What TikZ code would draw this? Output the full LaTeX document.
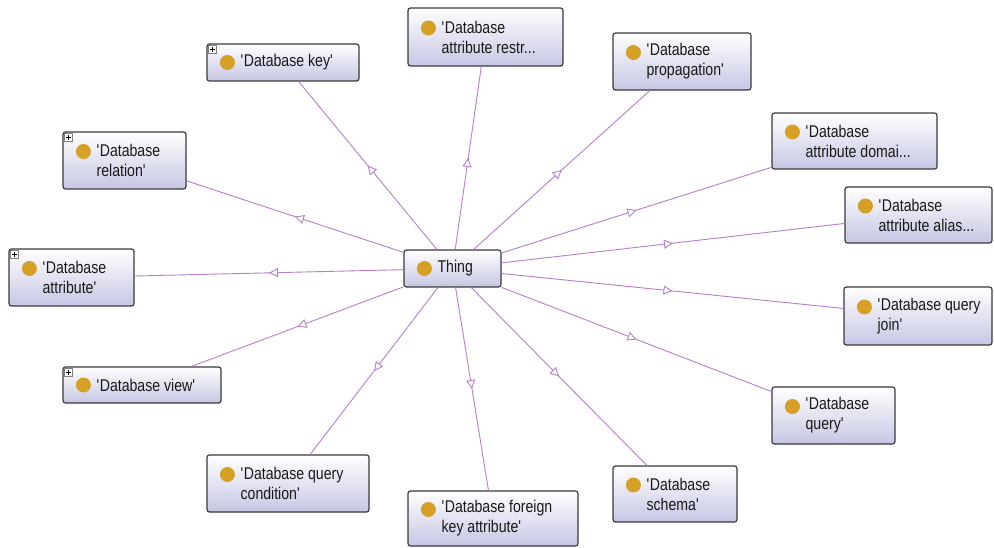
\documentclass[tikz,border=0pt]{standalone}
\usepackage{fontspec}
\setmainfont[FakeStretch=0.83]{Liberation Sans}
\usetikzlibrary{arrows.meta,decorations.markings}

\definecolor{boxline}{RGB}{58,58,62}
\definecolor{boxlow}{RGB}{198,198,228}
\definecolor{dotc}{RGB}{214,160,38}
\definecolor{edgec}{RGB}{182,126,204}
\definecolor{textc}{RGB}{25,25,25}

\newcommand\q{\textquotesingle}

\tikzset{
  cbox/.style={draw=boxline, line width=1.2pt, rounded corners=2.5pt,
    top color=white, bottom color=boxlow, inner sep=0pt},
  ctext/.style={anchor=west, align=left, inner sep=0pt, text=textc,
    font=\fontsize{17pt}{20pt}\selectfont},
  dot/.style={fill=dotc},
  plusbox/.style={draw=gray, line width=0.6pt, fill=white},
  isa/.style={draw=edgec, line width=0.9pt, postaction={decorate},
    decoration={markings, mark=at position 0.5 with
      {\arrow{Triangle[length=9pt,width=9pt,fill=white,line width=0.9pt]}}}},
}

% class box: name, centre x, centre y, width, height, dot lift, label
\newcommand\owlclass[7]{%
  \node[cbox, minimum width=#4pt, minimum height=#5pt] (#1) at (#2,#3) {};
  \fill[dot] ([xshift=21pt,yshift=#6pt]#1.west) circle (7.5pt);
  \node[ctext] (#1-label) at ([xshift=34pt]#1.west) {#7};
}
% small expand marker in the upper left corner of a class box
\newcommand\owlplus[1]{%
  \draw[plusbox] ([shift={(2pt,-2pt)}]#1.north west) rectangle ++(8pt,-8pt);
  \draw[line width=0.7pt] ([shift={(6pt,-3.6pt)}]#1.north west) -- ++(0pt,-4.8pt);
  \draw[line width=0.7pt] ([shift={(3.6pt,-6pt)}]#1.north west) -- ++(4.8pt,0pt);
}

\begin{document}
\begin{tikzpicture}[x=1pt,y=-1pt]
  \fill[white] (0,0) rectangle (994,548);
  \useasboundingbox (0,0) rectangle (994,548);

  \owlclass{thing}{452.5}{268.5}{97}{37}{0}{Thing}

  \owlclass{key}{283}{62.5}{152}{37}{0}{\q Database key\q}
  \owlclass{restr}{485.5}{37}{155}{58}{9}{\q Database\\attribute restr...}
  \owlclass{prop}{682}{61.5}{138}{57}{9}{\q Database\\propagation\q}
  \owlclass{domain}{854.5}{141}{165}{56}{9}{\q Database\\attribute domai...}
  \owlclass{alias}{918.5}{215}{147}{56}{9}{\q Database\\attribute alias...}
  \owlclass{join}{918}{316}{148}{58}{9}{\q Database query\\join\q}
  \owlclass{query}{833.5}{415.5}{123}{57}{9}{\q Database\\query\q}
  \owlclass{schema}{675}{494}{124}{56}{9}{\q Database\\schema\q}
  \owlclass{fkey}{493}{518.5}{170}{55}{9}{\q Database foreign\\key attribute\q}
  \owlclass{cond}{288}{483.5}{162}{57}{9}{\q Database query\\condition\q}
  \owlclass{view}{142}{385}{158}{36}{0}{\q Database view\q}
  \owlclass{attr}{71.5}{277.5}{125}{57}{9}{\q Database\\attribute\q}
  \owlclass{rel}{124.5}{160.5}{123}{57}{9}{\q Database\\relation\q}

  \owlplus{key}
  \owlplus{view}
  \owlplus{attr}
  \owlplus{rel}

  % subclass links, each with an open triangle halfway along
  \foreach \c in {key,restr,prop,domain,alias,join,query,schema,fkey,cond,view,attr,rel}
    \draw[isa] (thing) -- (\c);
\end{tikzpicture}
\end{document}
